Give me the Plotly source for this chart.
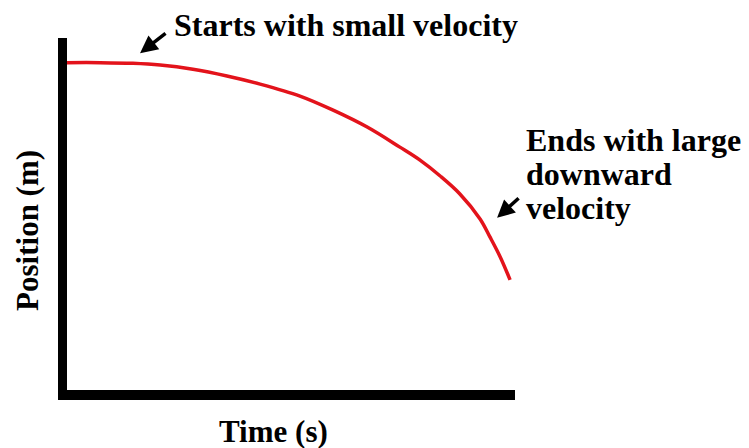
import plotly.graph_objects as go

# Data (arbitrary units)
time_s = [0.0, 0.74, 1.47, 2.08, 2.81, 3.57, 4.31, 5.20, 5.94, 6.70, 7.43, 7.88, 8.33, 8.77, 9.22, 9.44, 9.67, 9.89]
position_m = [9.30, 9.30, 9.28, 9.23, 9.11, 8.92, 8.69, 8.35, 7.95, 7.47, 6.90, 6.53, 6.08, 5.57, 4.86, 4.35, 3.78, 3.13]

x_title = "Time (s)"
y_title = "Position (m)"
note_start = "Starts with small velocity"
note_end = ["Ends with large", "downward", "velocity"]
arrow_start = (1.63, 9.57)
arrow_end = (9.60, 4.89)

FONT = "Liberation Serif, Times New Roman, serif"

fig = go.Figure()
fig.add_trace(go.Scatter(
    x=time_s, y=position_m, mode="lines",
    line=dict(color="#e3131b", width=3.5, shape="spline", smoothing=1.0),
    hoverinfo="skip", showlegend=False,
))

ann = []
ann.append(dict(x=arrow_start[0], y=arrow_start[1], xref="x", yref="y",
                ax=27, ay=-21, showarrow=True, arrowhead=2, arrowsize=1,
                arrowwidth=3.5, arrowcolor="black", text=""))
ann.append(dict(x=arrow_end[0], y=arrow_end[1], xref="x", yref="y",
                ax=23, ay=-21, showarrow=True, arrowhead=2, arrowsize=1,
                arrowwidth=3.5, arrowcolor="black", text=""))
ann.append(dict(x=0.234, y=1.037, xref="paper", yref="paper", xanchor="left",
                yanchor="middle", showarrow=False, text=note_start,
                font=dict(family=FONT, size=32, color="black", weight="bold")))
for line, yp in zip(note_end, [0.710, 0.614, 0.517]):
    ann.append(dict(x=1.019, y=yp, xref="paper", yref="paper", xanchor="left",
                    yanchor="middle", showarrow=False, text=line,
                    font=dict(family=FONT, size=32, color="black", weight="bold")))
ann.append(dict(x=0.46, y=-0.1165, xref="paper", yref="paper", xanchor="center",
                yanchor="middle", showarrow=False, text=x_title,
                font=dict(family=FONT, size=31, color="black", weight="bold")))
ann.append(dict(x=-0.087, y=0.452, xref="paper", yref="paper", xanchor="center",
                yanchor="middle", showarrow=False, text=y_title, textangle=-90,
                font=dict(family=FONT, size=31, color="black", weight="bold")))

# page has an 8px body margin, so the figure is 8px smaller on each axis
fig.update_layout(
    width=741, height=440,
    margin=dict(l=59, r=234, t=30, b=58, pad=0),
    paper_bgcolor="white", plot_bgcolor="white",
    annotations=ann,
    xaxis=dict(range=[0, 10], showline=True, linewidth=10, linecolor="black",
               showgrid=False, zeroline=False, showticklabels=False, ticks=""),
    yaxis=dict(range=[0, 10], showline=True, linewidth=9, linecolor="black",
               showgrid=False, zeroline=False, showticklabels=False, ticks=""),
)

fig.write_html("out.html")
